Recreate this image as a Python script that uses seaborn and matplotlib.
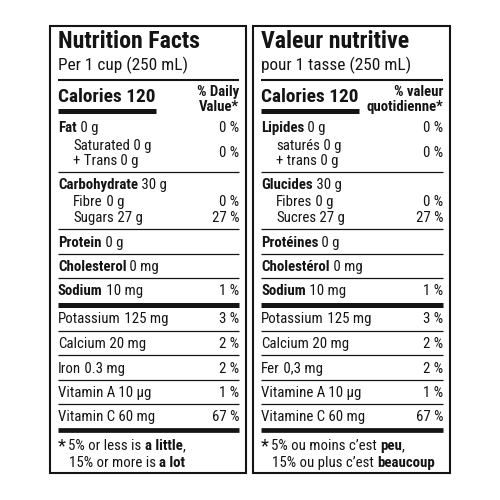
import matplotlib
matplotlib.use("Agg")
import matplotlib.pyplot as plt
import seaborn as sns

sns.set_theme(style="white")
plt.rcParams['font.family'] = ['Roboto Condensed', 'DejaVu Sans']

# ---------------- data ----------------
title_en = "Nutrition Facts"
title_fr = "Valeur nutritive"
serving_en = "Per 1 cup (250 mL)"
serving_fr = "pour 1 tasse (250 mL)"
calories = 120
dv_head_en = ["% Daily", "Value*"]
dv_head_fr = ["% valeur", "quotidienne*"]

rows_en = [("Fat", "0 g"), ("Saturated", "0 g"), ("+ Trans", "0 g"),
           ("Carbohydrate", "30 g"), ("Fibre", "0 g"), ("Sugars", "27 g"),
           ("Protein", "0 g"), ("Cholesterol", "0 mg"), ("Sodium", "10 mg"),
           ("Potassium", "125 mg"), ("Calcium", "20 mg"), ("Iron", "0.3 mg"),
           ("Vitamin A", "10 µg"), ("Vitamin C", "60 mg")]
rows_fr = [("Lipides", "0 g"), ("saturés", "0 g"), ("+ trans", "0 g"),
           ("Glucides", "30 g"), ("Fibres", "0 g"), ("Sucres", "27 g"),
           ("Protéines", "0 g"), ("Cholestérol", "0 mg"), ("Sodium", "10 mg"),
           ("Potassium", "125 mg"), ("Calcium", "20 mg"), ("Fer", "0,3 mg"),
           ("Vitamine A", "10 µg"), ("Vitamine C", "60 mg")]
bold_label = [True, False, False, True, False, False, True, True, True,
              False, False, False, False, False]
indent = [False, True, True, False, True, True, False, False, False,
          False, False, False, False, False]
row_y = [132, 150, 165, 189, 206, 222, 247, 271, 295, 323, 348, 373, 397, 421]
daily_values = ["0 %", "0 %", None, None, "0 %", "27 %", None, None, "1 %",
                "3 %", "2 %", "2 %", "1 %", "67 %"]
dv_y = [132, 157, None, None, 206, 222, None, None, 295, 323, 348, 373, 397, 421]

thin_lines = [172, 229, 254, 278, 331, 355, 380, 404]
foot_en = [[("5% or less is ", False), ("a little", True), (",", False)],
           [("15% or more is ", False), ("a lot", True)]]
foot_fr = [[("5% ou moins c’est ", False), ("peu", True), (",", False)],
           [("15% ou plus c’est ", False), ("beaucoup", True)]]

INK = "#141414"

# ---------------- figure ----------------
fig = plt.figure(figsize=(5, 5), dpi=100)
ax = fig.add_axes([0, 0, 1, 1])
ax.set_xlim(0, 500)
ax.set_ylim(500, 0)
ax.axis("off")
fig.canvas.draw()
renderer = fig.canvas.get_renderer()

BODY = 10.7


def rich(x, y, parts, size):
    for txt, bold in parts:
        t = ax.text(x, y, txt, fontsize=size,
                    fontweight="bold" if bold else "normal",
                    va="baseline", ha="left", color=INK)
        x += t.get_window_extent(renderer).width
    return x


def panel(x0, x1, title, serving, dv_head, rows, foot):
    ax.add_patch(plt.Rectangle((x0, 26), x1 - x0, 447, fill=False,
                               lw=1.5, ec=INK))
    L = x0 + 8
    R = x1 - 7
    ax.text(L, 48.5, title, fontsize=17.2, fontweight="bold", va="baseline",
            ha="left", color=INK)
    ax.text(L, 70, serving, fontsize=12.4, va="baseline", ha="left", color=INK)
    ax.hlines(80, L, R, lw=1.5, color=INK)
    ax.text(L, 102, f"Calories {calories}", fontsize=13.9, fontweight="bold",
            va="baseline", ha="left", color=INK)
    ax.hlines(110.5, L, L + 98, lw=3.6, color=INK)
    ax.text(R, 96, dv_head[0], fontsize=10.6, fontweight="bold",
            va="baseline", ha="right", color=INK)
    ax.text(R, 111, dv_head[1], fontsize=10.6, fontweight="bold",
            va="baseline", ha="right", color=INK)
    for i, (lab, amt) in enumerate(rows):
        x = L + (15 if indent[i] else 0)
        rich(x, row_y[i], [(lab, bold_label[i]), (" " + amt, False)], BODY)
        if daily_values[i] is not None:
            ax.text(R, dv_y[i], daily_values[i], fontsize=BODY,
                    va="baseline", ha="right", color=INK)
    for yl in thin_lines:
        ax.hlines(yl, L, R, lw=0.9, color=INK)
    ax.hlines(304.5, L, R, lw=3.6, color=INK)
    ax.hlines(429.5, L, R, lw=3.4, color=INK)
    ax.text(L - 0.5, 451, "*", fontsize=BODY + 2.5, va="baseline", ha="left",
            color=INK)
    rich(L + 10, 450, foot[0], BODY)
    rich(L + 11, 467, foot[1], BODY)


panel(50, 246, title_en, serving_en, dv_head_en, rows_en, foot_en)
panel(253, 450, title_fr, serving_fr, dv_head_fr, rows_fr, foot_fr)

fig.savefig("out.png", dpi=100, facecolor="white")
